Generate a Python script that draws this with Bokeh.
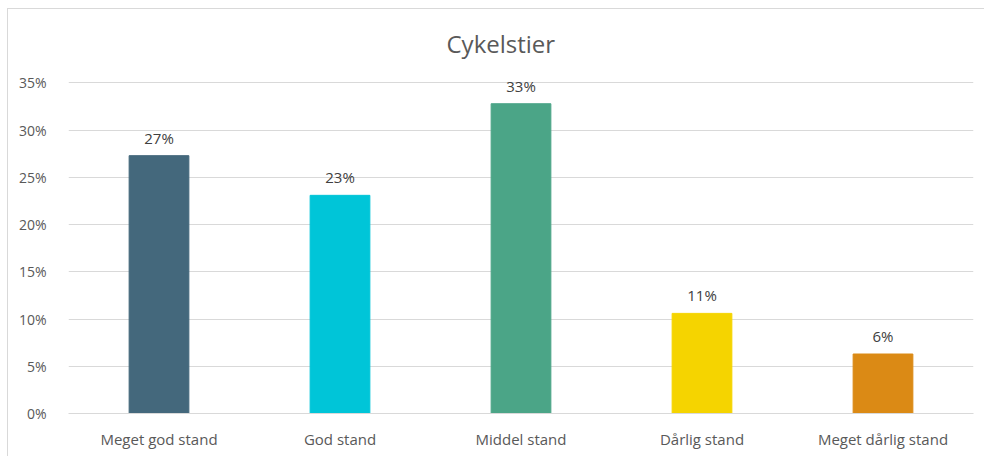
from bokeh.plotting import figure
from bokeh.models import FixedTicker, PrintfTickFormatter, ColumnDataSource, FactorRange, Range1d
from bokeh.core.properties import value
from bokeh.embed import file_html
from bokeh.resources import INLINE

categories = ["Meget god stand", "God stand", "Middel stand", "Dårlig stand", "Meget dårlig stand"]
shares = [27.3, 23.1, 32.8, 10.6, 6.3]
colors = ["#44687C", "#00C5D8", "#4BA587", "#F5D400", "#DB8A15"]
y_ticks = [0, 5, 10, 15, 20, 25, 30, 35]

FONT = "Open Sans"

src = ColumnDataSource(dict(
    cat=categories,
    val=shares,
    col=colors,
    lab=[f"{v:.0f}%" for v in shares],
))

p = figure(
    x_range=FactorRange(*categories),
    y_range=Range1d(0, 36),
    width=977, height=448,
    output_backend="svg", toolbar_location=None,
    title="Cykelstier",
    min_border_left=60, min_border_right=12, min_border_top=64, min_border_bottom=44,
)
p.styles = {
    "border-left": "1px solid #d9d9d9",
    "border-top": "1px solid #d9d9d9",
    "margin-left": "7px",
    "margin-top": "8px",
}

p.title.align = "left"
p.title.text_font = FONT
p.title.text_font_size = "24px"
p.title.text_font_style = "normal"
p.title.text_color = "#595959"
p.title.standoff = 28
p.title.offset = 378

p.vbar(x="cat", top="val", width=0.33, color="col", source=src)
p.text(x="cat", y="val", text="lab", source=src, text_align="center", text_baseline="bottom",
       y_offset=-8, text_font=value(FONT), text_font_size="15px", text_color="#404040")

p.outline_line_color = None
p.xgrid.grid_line_color = None
p.ygrid.grid_line_color = "#d9d9d9"
p.ygrid.ticker = FixedTicker(ticks=y_ticks)

p.yaxis.ticker = FixedTicker(ticks=y_ticks)
p.yaxis.formatter = PrintfTickFormatter(format="%d%%")
p.yaxis.axis_line_color = None
p.yaxis.major_tick_line_color = None
p.yaxis.minor_tick_line_color = None
p.yaxis.major_label_standoff = 16
p.yaxis.major_label_text_font = FONT
p.yaxis.major_label_text_font_size = "14px"
p.yaxis.major_label_text_color = "#595959"

p.xaxis.axis_line_color = "#d9d9d9"
p.xaxis.major_tick_line_color = None
p.xaxis.minor_tick_line_color = None
p.xaxis.major_label_standoff = 9
p.xaxis.major_label_text_font = FONT
p.xaxis.major_label_text_font_size = "15px"
p.xaxis.major_label_text_color = "#595959"

open("out.html", "w").write(file_html(p, INLINE))
